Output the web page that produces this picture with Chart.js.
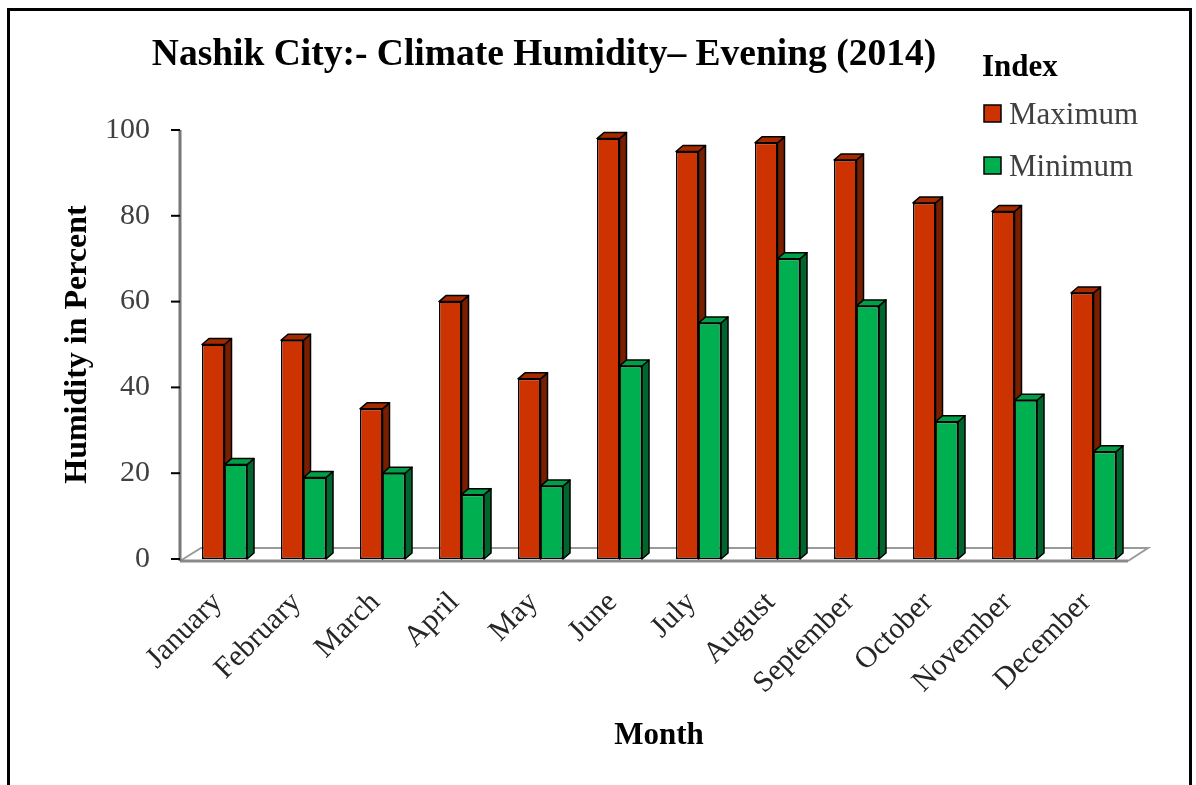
<!DOCTYPE html>
<html>
<head>
<meta charset="utf-8">
<title>Nashik City Humidity</title>
<script src="https://cdn.jsdelivr.net/npm/chart.js@4.4.1/dist/chart.umd.min.js"></script>
<style>
    html, body { margin: 0; padding: 0; background: #fff; }
    #wrap { position: relative; width: 1196px; height: 785px; overflow: hidden; }
    #frame {
        position: absolute; left: 7px; top: 8px; width: 1179px; height: 820px;
        border: 3px solid #000; border-bottom: none;
    }
    #humidityChart { position: absolute; left: 0; top: 0; }
</style>
</head>
<body>
<div id="wrap">
    <div id="frame"></div>
    <canvas id="humidityChart" width="1196" height="785"></canvas>
</div>
<script>
    'use strict';

    var months = ['January', 'February', 'March', 'April', 'May', 'June',
        'July', 'August', 'September', 'October', 'November', 'December'];
    var maxHumidity = [50, 51, 35, 60, 42, 98, 95, 97, 93, 83, 81, 62];
    var minHumidity = [22, 19, 20, 15, 17, 45, 55, 70, 59, 32, 37, 25];
    var seriesNames = ['Maximum', 'Minimum'];
    var yTicks = [0, 20, 40, 60, 80, 100];

    var SERIF = '"Liberation Serif", "Times New Roman", serif';
    var DEPTH_X = 7;
    var DEPTH_Y = 6;

    function barBox(bar) {
        var p = bar.getProps(['x', 'y', 'base', 'width'], true);
        return { l: p.x - p.width / 2, r: p.x + p.width / 2, top: p.y, base: p.base };
    }

    function drawFaces(ctx, ds, meta) {
        ctx.lineWidth = 1.5;
        ctx.lineJoin = 'round';
        ctx.strokeStyle = '#000';
        meta.data.forEach(function (bar) {
            var b = barBox(bar);

            ctx.fillStyle = ds.sideColor;
            ctx.beginPath();
            ctx.moveTo(b.r, b.top);
            ctx.lineTo(b.r + DEPTH_X, b.top - DEPTH_Y);
            ctx.lineTo(b.r + DEPTH_X, b.base - DEPTH_Y);
            ctx.lineTo(b.r, b.base);
            ctx.closePath();
            ctx.fill();
            ctx.stroke();

            ctx.fillStyle = ds.topColor;
            ctx.beginPath();
            ctx.moveTo(b.l, b.top);
            ctx.lineTo(b.l + DEPTH_X, b.top - DEPTH_Y);
            ctx.lineTo(b.r + DEPTH_X, b.top - DEPTH_Y);
            ctx.lineTo(b.r, b.top);
            ctx.closePath();
            ctx.fill();
            ctx.stroke();
        });
    }

    // floor, value axis, side/top faces of the columns, title and legend
    var bar3d = {
        id: 'bar3d',
        beforeDatasetsDraw: function (chart) {
            var ctx = chart.ctx;
            var area = chart.chartArea;
            var y = chart.scales.y;
            var fx0 = area.left - 5, fx1 = area.right - 5, fy = area.bottom + 2;
            var bx0 = fx0 + 21, bx1 = fx1 + 20, by = area.bottom - 11;

            ctx.save();
            ctx.strokeStyle = '#9a9a9a';
            ctx.lineWidth = 2;
            ctx.beginPath();
            ctx.moveTo(fx0, fy);
            ctx.lineTo(bx0, by);
            ctx.lineTo(bx1, by);
            ctx.lineTo(fx1, fy);
            ctx.stroke();
            ctx.strokeStyle = '#8a8a8a';
            ctx.lineWidth = 3;
            ctx.beginPath();
            ctx.moveTo(fx0, fy);
            ctx.lineTo(fx1, fy);
            ctx.stroke();

            ctx.strokeStyle = '#777';
            ctx.lineWidth = 3;
            ctx.beginPath();
            ctx.moveTo(fx0, y.getPixelForValue(yTicks[yTicks.length - 1]));
            ctx.lineTo(fx0, fy);
            ctx.stroke();
            ctx.strokeStyle = '#000';
            ctx.lineWidth = 2;
            yTicks.forEach(function (v) {
                var py = Math.min(y.getPixelForValue(v), fy);
                ctx.beginPath();
                ctx.moveTo(fx0 - 9, py);
                ctx.lineTo(fx0, py);
                ctx.stroke();
            });
            ctx.restore();
        },
        afterDatasetsDraw: function (chart) {
            var ctx = chart.ctx;
            var metaMax = chart.getDatasetMeta(0);
            var metaMin = chart.getDatasetMeta(1);

            // the Minimum columns stand in front of the Maximum side faces
            ctx.save();
            ctx.beginPath();
            ctx.rect(0, 0, chart.width, chart.height);
            metaMin.data.forEach(function (bar) {
                var b = barBox(bar);
                ctx.rect(b.l + 1, b.top, b.r - b.l - 1, b.base - b.top);
            });
            ctx.clip('evenodd');
            drawFaces(ctx, chart.data.datasets[0], metaMax);
            ctx.restore();

            ctx.save();
            drawFaces(ctx, chart.data.datasets[1], metaMin);
            ctx.restore();
        },
        afterDraw: function (chart) {
            var ctx = chart.ctx;
            ctx.save();
            ctx.fillStyle = '#000';
            ctx.textBaseline = 'middle';
            ctx.textAlign = 'center';
            ctx.font = 'bold 37.5px ' + SERIF;
            ctx.fillText('Nashik City:- Climate Humidity\u2013 Evening (2014)', 544, 55);

            ctx.textAlign = 'left';
            ctx.font = 'bold 31px ' + SERIF;
            ctx.fillText('Index', 982, 68);
            ctx.font = '31px ' + SERIF;
            chart.data.datasets.forEach(function (ds, i) {
                var cy = 114 + i * 52;
                ctx.fillStyle = ds.backgroundColor;
                ctx.fillRect(984, cy - 9, 17, 17);
                ctx.strokeStyle = '#000';
                ctx.lineWidth = 1.5;
                ctx.strokeRect(984, cy - 9, 17, 17);
                ctx.fillStyle = '#404040';
                ctx.fillText(ds.label, 1009, cy + 2);
            });
            ctx.restore();
        }
    };

    new Chart(document.getElementById('humidityChart'), {
        type: 'bar',
        data: {
            labels: months,
            datasets: [{
                label: seriesNames[0],
                data: maxHumidity,
                backgroundColor: '#CC3300',
                sideColor: '#7A1E00',
                topColor: '#A52A00',
                borderColor: '#000',
                borderWidth: 1.5,
                borderSkipped: false
            }, {
                label: seriesNames[1],
                data: minHumidity,
                backgroundColor: '#00B050',
                sideColor: '#00662E',
                topColor: '#00A049',
                borderColor: '#000',
                borderWidth: 1.5,
                borderSkipped: false
            }]
        },
        options: {
            responsive: false,
            animation: false,
            layout: {
                padding: { top: 130, left: 10, right: 63, bottom: 26 }
            },
            categoryPercentage: 0.57,
            barPercentage: 1.0,
            plugins: {
                legend: { display: false },
                title: { display: false },
                tooltip: { enabled: false }
            },
            scales: {
                x: {
                    grid: { display: false, drawTicks: false },
                    border: { display: false },
                    ticks: {
                        minRotation: 45,
                        maxRotation: 45,
                        padding: 26,
                        labelOffset: -7,
                        color: '#262626',
                        font: { family: SERIF, size: 30 }
                    },
                    title: {
                        display: true,
                        text: 'Month',
                        color: '#000',
                        font: { family: SERIF, size: 31, weight: 'bold' },
                        padding: { top: 0, bottom: 4 }
                    },
                    afterFit: function (scale) {
                        scale.height = 200;
                    }
                },
                y: {
                    min: 0,
                    max: 100,
                    grid: { display: false, drawTicks: false },
                    border: { display: false },
                    afterBuildTicks: function (scale) {
                        scale.ticks = yTicks.map(function (v) { return { value: v }; });
                    },
                    ticks: {
                        padding: 35,
                        color: '#404040',
                        font: { family: SERIF, size: 30 }
                    },
                    title: {
                        display: true,
                        text: 'Humidity in Percent',
                        color: '#000',
                        font: { family: SERIF, size: 32, weight: 'bold' },
                        padding: { top: 49, bottom: 0 }
                    },
                    afterFit: function (scale) {
                        scale.width = 175;
                    }
                }
            }
        },
        plugins: [bar3d]
    });
</script>
</body>
</html>
